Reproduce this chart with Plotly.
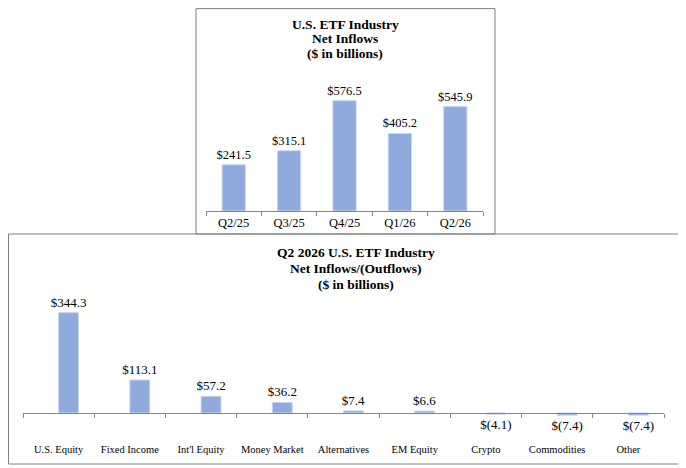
import plotly.graph_objects as go

# top chart: quarterly net inflows
quarters = ["Q2/25", "Q3/25", "Q4/25", "Q1/26", "Q2/26"]
inflows = [241.5, 315.1, 576.5, 405.2, 545.9]

# bottom chart: Q2 2026 by category
categories = ["U.S. Equity", "Fixed Income", "Int'l Equity", "Money Market",
              "Alternatives", "EM Equity", "Crypto", "Commodities", "Other"]
flows = [344.3, 113.1, 57.2, 36.2, 7.4, 6.6, -4.1, -7.4, -7.4]

top_title = ["U.S. ETF Industry", "Net Inflows", "($ in billions)"]
bottom_title = ["Q2 2026 U.S. ETF Industry", "Net Inflows/(Outflows)", "($ in billions)"]


def fmt(v):
    return f"${v:.1f}" if v >= 0 else f"$({abs(v):.1f})"


# the page body has an 8px margin, so the figure is a bit smaller
# and coordinates below are taken from the reference picture minus 8
OFF = 8
W, H = 686 - OFF, 468 - OFF
BAR = "#8FAADC"
SERIF = "Liberation Serif, Times New Roman, serif"

px = lambda p: (p - OFF) / W
py = lambda p: 1 - (p - OFF) / H

fig = go.Figure()
fig.add_trace(go.Bar(
    x=quarters, y=inflows, text=[fmt(v) for v in inflows],
    textposition="outside", cliponaxis=False, constraintext="none", width=0.42,
    marker=dict(color=BAR, line=dict(color="#C9D6EE", width=1)),
    textfont=dict(family=SERIF, size=12.5, color="#000"),
    xaxis="x", yaxis="y",
))
fig.add_trace(go.Bar(
    x=categories, y=flows, text=[fmt(v) for v in flows],
    textposition="outside", cliponaxis=False, constraintext="none",
    width=0.28, offset=0,
    marker=dict(color=BAR, line=dict(color="#C9D6EE", width=1)),
    textfont=dict(family=SERIF, size=13, color="#000"),
    xaxis="x2", yaxis="y2",
))

fig.update_layout(
    width=W, height=H, margin=dict(l=0, r=0, t=0, b=0, autoexpand=False),
    paper_bgcolor="white", plot_bgcolor="white", showlegend=False,
    font=dict(family=SERIF, color="#000"),
    xaxis=dict(domain=[px(206), px(483)], anchor="y", showline=True,
               linecolor="#868686", ticks="outside", tickson="boundaries",
               ticklen=4, tickcolor="#868686", showgrid=False,
               tickangle=0, automargin=False,
               tickfont=dict(family=SERIF, size=12.5)),
    yaxis=dict(domain=[py(211), py(75)], range=[0, 711], visible=False),
    xaxis2=dict(domain=[px(23), px(664)], anchor="free", position=py(413),
                showline=True, linecolor="#868686", ticks="outside",
                tickson="boundaries", ticklen=4, tickcolor="#868686",
                showgrid=False, ticklabelstandoff=26, tickangle=0,
                automargin=False,
                tickfont=dict(family=SERIF, size=10.5)),
    yaxis2=dict(domain=[py(418.8), py(290.6)], range=[-20, 420], visible=False),
)

# frames around both panels
fig.add_shape(type="rect", xref="paper", yref="paper",
              x0=px(196), x1=px(495), y0=py(234), y1=py(8.6),
              line=dict(color="#7F7F7F", width=1))
fig.add_shape(type="rect", xref="paper", yref="paper",
              x0=px(8.5), x1=px(682), y0=py(464), y1=py(234),
              line=dict(color="#7F7F7F", width=1))

# titles, one annotation per line to keep the tight line spacing
for i, line in enumerate(top_title):
    fig.add_annotation(x=px(345), y=py(24 + 15 * i), xref="paper", yref="paper",
                       text=f"<b>{line}</b>", showarrow=False,
                       xanchor="center", yanchor="middle",
                       font=dict(family=SERIF, size=13.5))
for i, line in enumerate(bottom_title):
    fig.add_annotation(x=px(356), y=py(252 + 16 * i), xref="paper", yref="paper",
                       text=f"<b>{line}</b>", showarrow=False,
                       xanchor="center", yanchor="middle",
                       font=dict(family=SERIF, size=13.5))

fig.write_html("out.html")
